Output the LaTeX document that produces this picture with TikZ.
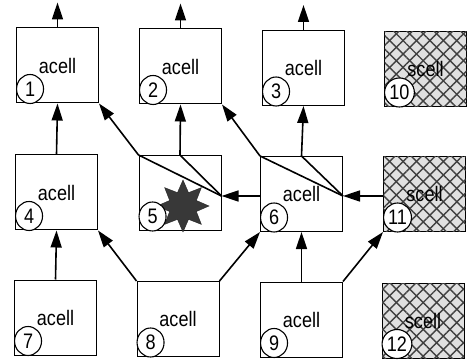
\documentclass[tikz,border=0pt]{standalone}
\usepackage{fontspec}
\newfontfamily\cellfont[FakeStretch=0.86]{Liberation Sans}
\usetikzlibrary{arrows.meta,shapes.geometric,patterns.meta,calc}
\begin{document}
\begin{tikzpicture}[x=1pt,y=-1pt,
  cellbox/.style={draw, line width=1pt, minimum width=82pt, minimum height=75pt,
    inner sep=0pt, font=\cellfont\fontsize{21}{21}\selectfont},
  acellbox/.style={cellbox, fill=white},
  scellbox/.style={cellbox, fill=black!12,
    postaction={pattern={Lines[angle=45,distance=9.5pt,line width=1.4pt]}, pattern color=black!75},
    postaction={pattern={Lines[angle=-45,distance=9.5pt,line width=1.4pt]}, pattern color=black!75}},
  numtag/.style={ellipse, draw, line width=1.1pt, fill=white, minimum width=27pt,
    minimum height=29pt, inner sep=0.5pt, anchor=west,
    font=\cellfont\fontsize{21}{21}\selectfont},
  wire/.style={line width=1.6pt},
  conn/.style={wire, -{Triangle[length=17pt,width=11pt]}}
]
\useasboundingbox (0,0) rectangle (468,363);

% cell grid
\node[acellbox] (n1)  at (57.5,65.5)  {acell};
\node[acellbox] (n2)  at (180.5,66.5) {acell};
\node[acellbox] (n3)  at (303.5,68)   {acell};
\node[scellbox] (n10) at (425.5,69)   {scell};
\node[acellbox] (n4)  at (56.5,192.5) {acell};
\node[acellbox] (n5)  at (180,193)    {};
\node[acellbox] (n6)  at (301.5,194)  {acell};
\node[scellbox] (n11) at (424.5,194)  {scell};
\node[acellbox] (n7)  at (55.5,317.5) {acell};
\node[acellbox] (n8)  at (178,319)    {acell};
\node[acellbox] (n9)  at (301.5,319.5){acell};
\node[scellbox] (n12) at (423,320.5)  {scell};

% defective cell marker
\node[star, star points=8, star point ratio=1.8, minimum size=52pt, inner sep=0pt,
  fill=black!78, draw=black!85] (burst) at (183,206) {};

% cell numbers
\foreach \c in {1,...,12}
  \node[numtag] (tag\c) at ($(n\c.south west)+(0,-14.5)$) {\c};

% outputs of the top row
\foreach \c in {1,2,3}{
  \coordinate (out\c) at ($(n\c.north)+(0,-25)$);
  \draw[conn] (n\c.north) -- (out\c);
}

% bypass junctions on the right edges of cells 5 and 6
\coordinate (j5) at ($(n5.east)+(0,3)$);
\coordinate (j6) at ($(n6.east)+(0,2)$);

% connections
\draw[conn] (n4.north) -- (n1.south);
\draw[conn] (n7.north) -- (n4.south);
\draw[conn] (n6.west |- j5) -- (j5);
\draw[conn] (n11.west |- j6) -- (j6);
\draw[wire] (j5) -- (n5.north west);
\draw[conn] (n5.north west) -- (n1.south east);
\draw[wire] (j5) -- (n5.north);
\draw[conn] (n5.north) -- (n2.south);
\draw[wire] (j6) -- (n6.north west);
\draw[conn] (n6.north west) -- (n2.south east);
\draw[wire] (j6) -- (n6.north);
\draw[conn] (n6.north) -- (n3.south);
\draw[conn] (n8.north west) -- (n4.south east);
\draw[conn] (n8.north east) -- (n6.south west);
\draw[conn] (n9.north) -- (n6.south);
\draw[conn] (n9.north east) -- (n11.south west);
\end{tikzpicture}
\end{document}
